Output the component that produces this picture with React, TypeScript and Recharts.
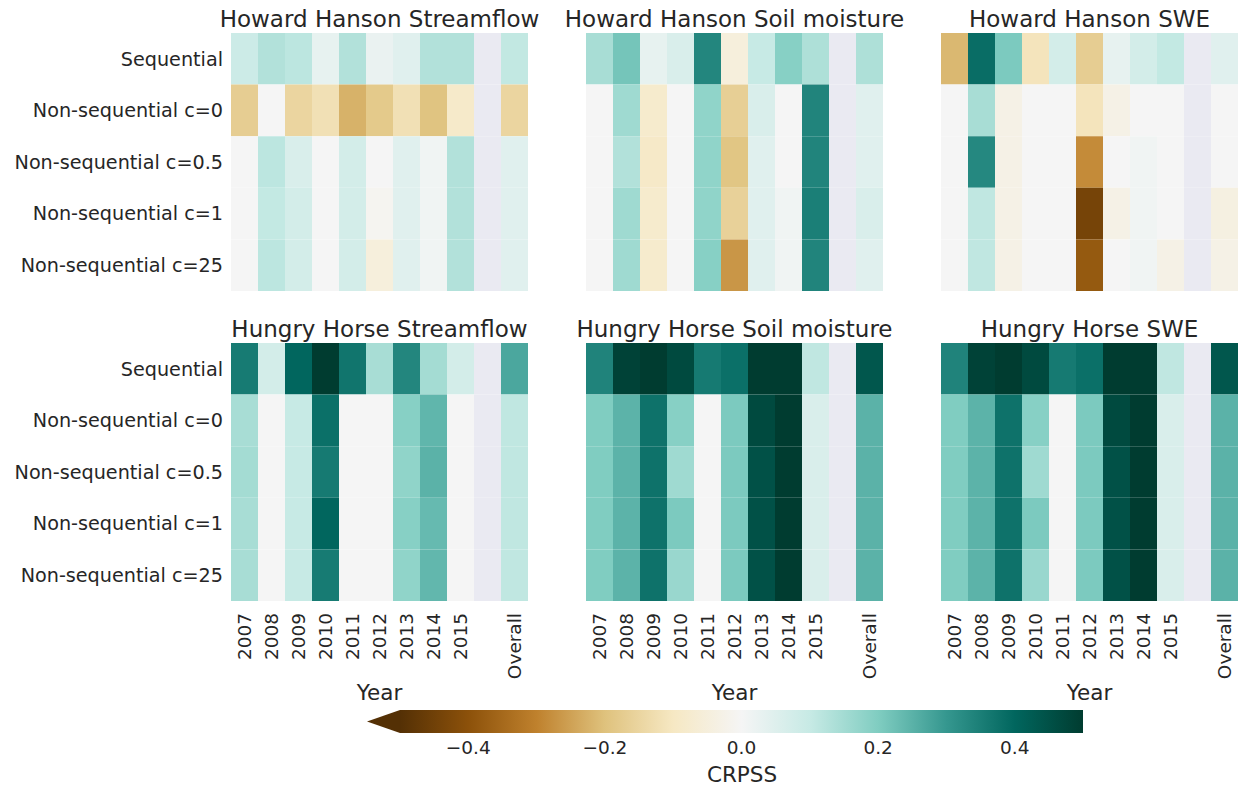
import React from 'react';
import {
  BarChart, Bar, Cell, XAxis, YAxis, ComposedChart, Line, ReferenceArea,
} from 'recharts';

// --- data (CRPSS) ---
const columns = ['2007', '2008', '2009', '2010', '2011', '2012', '2013', '2014', '2015', 'gap', 'Overall'];
const rowLabels = ['Sequential', 'Non-sequential c=0', 'Non-sequential c=0.5', 'Non-sequential c=1', 'Non-sequential c=25'];

const hhStreamflow = [
  [0.09, 0.13, 0.115, 0.03, 0.13, 0.025, 0.045, 0.13, 0.13, null, 0.107],
  [-0.17, 0, -0.15, -0.12, -0.225, -0.18, -0.12, -0.195, -0.087, null, -0.15],
  [0, 0.115, 0.06, 0, 0.075, 0, 0.045, 0.01, 0.13, null, 0.045],
  [0, 0.105, 0.075, 0, 0.075, -0.01, 0.045, 0.01, 0.13, null, 0.045],
  [0, 0.115, 0.075, 0, 0.075, -0.05, 0.045, 0.01, 0.13, null, 0.045],
];
const hhSoil = [
  [0.144, 0.215, 0.03, 0.06, 0.335, -0.05, 0.1, 0.19, 0.135, null, 0.135],
  [0, 0.156, -0.08, 0, 0.177, -0.165, 0.06, 0, 0.338, null, 0.045],
  [0, 0.13, -0.09, 0, 0.177, -0.19, 0.045, 0, 0.338, null, 0.045],
  [0, 0.156, -0.08, 0, 0.177, -0.16, 0.045, 0.01, 0.35, null, 0.06],
  [0, 0.156, -0.08, 0, 0.19, -0.268, 0.045, 0.01, 0.338, null, 0.045],
];
const hhSwe = [
  [-0.215, 0.385, 0.205, -0.11, 0.075, -0.17, 0.03, 0.075, 0.105, null, 0.045],
  [0, 0.144, -0.03, 0, 0, -0.11, -0.03, 0, 0, null, 0],
  [0, 0.33, -0.03, 0, 0, -0.285, 0, 0.01, 0, null, 0],
  [0, 0.11, -0.03, 0, 0, -0.44, -0.03, 0.01, 0, null, -0.04],
  [0, 0.11, -0.03, 0, 0, -0.382, 0, 0.01, -0.03, null, -0.03],
];
const hgStreamflow = [
  [0.357, 0.075, 0.4, 0.5, 0.37, 0.144, 0.335, 0.15, 0.075, null, 0.27],
  [0.144, 0, 0.1, 0.38, 0, 0, 0.19, 0.243, 0, null, 0.11],
  [0.15, 0, 0.1, 0.36, 0, 0, 0.177, 0.25, 0, null, 0.11],
  [0.144, 0, 0.1, 0.4, 0, 0, 0.19, 0.235, 0, null, 0.11],
  [0.144, 0, 0.1, 0.357, 0, 0, 0.177, 0.24, 0, null, 0.11],
];
const hgSoil = [
  [0.34, 0.485, 0.5, 0.467, 0.36, 0.38, 0.5, 0.5, 0.11, null, 0.436],
  [0.2, 0.248, 0.375, 0.19, 0, 0.205, 0.467, 0.5, 0.06, null, 0.25],
  [0.2, 0.248, 0.375, 0.156, 0, 0.205, 0.45, 0.5, 0.06, null, 0.25],
  [0.2, 0.248, 0.375, 0.205, 0, 0.205, 0.45, 0.5, 0.06, null, 0.25],
  [0.2, 0.248, 0.375, 0.165, 0, 0.205, 0.45, 0.5, 0.06, null, 0.25],
];
const hgSwe = [
  [0.34, 0.485, 0.5, 0.467, 0.36, 0.38, 0.5, 0.5, 0.11, null, 0.436],
  [0.2, 0.248, 0.375, 0.19, 0, 0.205, 0.467, 0.5, 0.06, null, 0.25],
  [0.2, 0.248, 0.375, 0.156, 0, 0.205, 0.45, 0.5, 0.06, null, 0.25],
  [0.2, 0.248, 0.375, 0.205, 0, 0.205, 0.45, 0.5, 0.06, null, 0.25],
  [0.2, 0.248, 0.375, 0.165, 0, 0.205, 0.45, 0.5, 0.06, null, 0.25],
];

const colorbarTicks = [-0.4, -0.2, 0, 0.2, 0.4];

// BrBG palette, mapped onto [-0.5, 0.5]
const BRBG = ['#543005', '#8c510a', '#bf812d', '#dfc27d', '#f6e8c3', '#f5f5f5',
  '#c7eae5', '#80cdc1', '#35978f', '#01665e', '#003c30'];
const NAN_FILL = '#eaeaf2';
const TEXT = '#262626';
const FONT = '"DejaVu Sans", sans-serif';

const hexToRgb = (h: string) => [1, 3, 5].map((i) => parseInt(h.slice(i, i + 2), 16));

function crpssColor(v: number | null) {
  if (v === null || v === undefined) return NAN_FILL;
  const t = (Math.max(-0.5, Math.min(0.5, v)) + 0.5) * 10;
  const i = Math.min(9, Math.floor(t));
  const f = t - i;
  const a = hexToRgb(BRBG[i]);
  const b = hexToRgb(BRBG[i + 1]);
  const c = a.map((x, k) => Math.round(x + (b[k] - x) * f));
  return `rgb(${c[0]},${c[1]},${c[2]})`;
}

const PLOT_W = 297;
const PLOT_H = 258;
const X_AXIS_H = 100;
const Y_AXIS_W = 231;

const YearTick = (props: any) => {
  const { x, y, payload } = props;
  if (payload.value === 'gap') return <g />;
  const ty = y + 4;
  return (
    <text x={x} y={ty} transform={`rotate(-90, ${x}, ${ty})`} textAnchor="end"
      dominantBaseline="central" fontSize={18.5} fill={TEXT} fontFamily={FONT}>
      {payload.value}
    </text>
  );
};

function Heatmap({ title, values, left, top, showY, showX }: {
  title: string; values: (number | null)[][]; left: number; top: number; showY: boolean; showX: boolean;
}) {
  const rows = columns.map((col) => {
    const d: any = { col };
    rowLabels.forEach((_, i) => { d[`r${i}`] = 1; });
    return d;
  });
  const yw = showY ? Y_AXIS_W : 0;
  const xh = showX ? X_AXIS_H : 0;
  return (
    <>
      <div style={{
        position: 'absolute', left, top: top - 26, width: PLOT_W,
        fontSize: 23, lineHeight: '24px', color: TEXT, fontFamily: FONT, whiteSpace: 'nowrap',
        display: 'flex', justifyContent: 'center',
      }}>{title}</div>
      <div style={{ position: 'absolute', left: left - yw, top }}>
        <BarChart width={yw + PLOT_W} height={PLOT_H + xh} data={rows}
          margin={{ top: 0, right: 0, bottom: 0, left: 0 }} barCategoryGap={0} barGap={0}>
          <XAxis dataKey="col" hide={!showX} height={X_AXIS_H} interval={0}
            axisLine={false} tickLine={false} tick={<YearTick />} />
          <YAxis type="number" domain={[0, 5]} reversed hide={!showY} width={Y_AXIS_W}
            ticks={[0.5, 1.5, 2.5, 3.5, 4.5]} interval={0} axisLine={false} tickLine={false}
            tickFormatter={(v: number) => rowLabels[Math.floor(v)]}
            tick={{ fontSize: 19.2, fill: TEXT, fontFamily: FONT }} />
          {rowLabels.map((_, i) => (
            <Bar key={i} dataKey={`r${i}`} stackId="a" isAnimationActive={false}>
              {columns.map((c, j) => (
                <Cell key={c} fill={crpssColor(values[i][j])} />
              ))}
            </Bar>
          ))}
        </BarChart>
      </div>
      {showX && (
        <div style={{
          position: 'absolute', left, top: 681, width: PLOT_W, textAlign: 'center',
          fontSize: 21.5, lineHeight: '24px', color: TEXT, fontFamily: FONT,
        }}>Year</div>
      )}
    </>
  );
}

const fmtTick = (v: number) => (v < 0 ? '\u2212' : '') + Math.abs(v).toFixed(1);

function Colorbar() {
  const cbData = [{ v: -0.5, y: 0.5 }, { v: 0.5, y: 0.5 }];
  return (
    <div style={{ position: 'absolute', left: 360, top: 710 }}>
      <ComposedChart width={40 + 683 + 5} height={23 + 32} data={cbData}
        margin={{ top: 0, right: 5, bottom: 0, left: 40 }}>
        <defs>
          <linearGradient id="brbg" x1="0" x2="1" y1="0" y2="0">
            {BRBG.map((c, i) => <stop key={i} offset={`${i * 10}%`} stopColor={c} />)}
          </linearGradient>
        </defs>
        <XAxis type="number" dataKey="v" domain={[-0.5, 0.5]} ticks={colorbarTicks}
          height={32} axisLine={false} tickLine={false} tickFormatter={fmtTick}
          tick={{ fontSize: 18.5, fill: TEXT, fontFamily: FONT }} />
        <YAxis type="number" domain={[0, 1]} hide />
        <ReferenceArea x1={-0.5} x2={0.5} y1={0} y2={1} fill="url(#brbg)" fillOpacity={1}
          stroke="none" ifOverflow="visible" />
        <ReferenceArea x1={-0.5} x2={-0.49} y1={0} y2={1} ifOverflow="visible"
          shape={(p: any) => (
            <polygon points={`${p.x},${p.y} ${p.x},${p.y + p.height} ${p.x - 33},${p.y + p.height / 2}`}
              fill={BRBG[0]} />
          )} />
        <Line dataKey="y" stroke="none" dot={false} isAnimationActive={false} />
      </ComposedChart>
    </div>
  );
}

export default function App() {
  const colLefts = [231, 586, 941];
  return (
    <div style={{ position: 'absolute', left: 0, top: 0, width: 1238, height: 788, background: '#fff' }}>
      <Heatmap title="Howard Hanson Streamflow" values={hhStreamflow} left={colLefts[0]} top={33} showY showX={false} />
      <Heatmap title="Howard Hanson Soil moisture" values={hhSoil} left={colLefts[1]} top={33} showY={false} showX={false} />
      <Heatmap title="Howard Hanson SWE" values={hhSwe} left={colLefts[2]} top={33} showY={false} showX={false} />
      <Heatmap title="Hungry Horse Streamflow" values={hgStreamflow} left={colLefts[0]} top={343} showY showX />
      <Heatmap title="Hungry Horse Soil moisture" values={hgSoil} left={colLefts[1]} top={343} showY={false} showX />
      <Heatmap title="Hungry Horse SWE" values={hgSwe} left={colLefts[2]} top={343} showY={false} showX />
      <Colorbar />
      <div style={{
        position: 'absolute', left: 642, top: 763, width: 200, textAlign: 'center',
        fontSize: 21.5, lineHeight: '24px', color: TEXT, fontFamily: FONT,
      }}>CRPSS</div>
    </div>
  );
}
